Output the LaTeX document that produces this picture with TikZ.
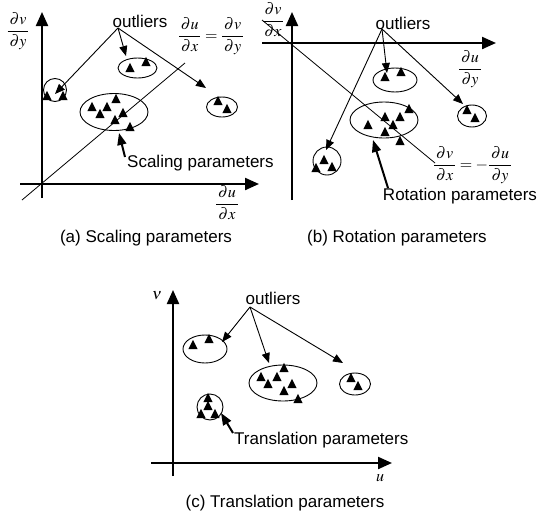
\documentclass[tikz,border=0pt]{standalone}
\usepackage{amsmath}
\usepackage{mathptmx}
\usepackage[no-math]{fontspec}
\setmainfont{Liberation Sans}
\usetikzlibrary{arrows.meta}
\newcommand\myfr[2]{\dfrac{\,\partial #1\,}{\,\partial #2\,}}
\begin{document}
\begin{tikzpicture}[x=1pt,y=-1pt,
  lbl/.style={font=\fontsize{17}{20}\selectfont, inner sep=0pt},
  mth/.style={font=\fontsize{16}{19}\selectfont, inner sep=0pt},
  axis/.style={line width=2.2pt, -{Triangle[length=14pt,width=12pt]}},
  outarrow/.style={line width=0.9pt, -{Triangle[length=10pt,width=8pt]}},
  thickarrow/.style={line width=2pt, -{Triangle[length=12pt,width=9pt]}},
  diag/.style={line width=0.8pt},
  ring/.style={line width=0.9pt},
  tri/.pic={\fill (-4.7,4.2) -- (4.7,4.2) -- (0,-5.2) -- cycle;}]
\useasboundingbox (0,0) rectangle (552,520);

% ---------------- (a) Scaling parameters ----------------
\draw[diag] (22,200) -- (185,63);
\draw[axis] (42,198) -- (42,12);
\draw[axis] (20,184) -- (259,184);
\node[mth] (avy) at (18,31) {$\myfr{v}{y}$};
\node[mth] (aux) at (227,203) {$\myfr{u}{x}$};
\node[mth] (aeq) at (211,36) {$\myfr{u}{x}=\myfr{v}{y}$};
\node[lbl] (aout) at (140,21) {outliers};
\coordinate (aoa) at (118,28);
\draw[ring] (55,90) circle [radius=11.5];
\draw[ring] (137.5,68) ellipse [x radius=19.5, y radius=10];
\draw[ring] (114,112) ellipse [x radius=34, y radius=18.5];
\draw[ring] (222,107) ellipse [x radius=15.5, y radius=10];
\pic at (47,96) {tri}; \pic at (63,96) {tri};
\pic at (130,68) {tri}; \pic at (146,62) {tri};
\pic at (92,107) {tri}; \pic at (100,114) {tri}; \pic at (107,107) {tri};
\pic at (116,99) {tri}; \pic at (123,113) {tri}; \pic at (115,120) {tri};
\pic at (130,127) {tri};
\pic at (218,101) {tri}; \pic at (227,109) {tri};
\coordinate (at1) at (55,94);
\coordinate (at2) at (126,56);
\coordinate (at3) at (206,88);
\draw[outarrow] (aoa) -- (at1);
\draw[outarrow] (aoa) -- (at2);
\draw[outarrow] (aoa) -- (at3);
\node[lbl, anchor=west] (asc) at (127,163) {Scaling parameters};
\coordinate (asct) at (119,133);
\draw[thickarrow] (125,157) -- (asct);
\node[lbl] (acap) at (146,238) {(a) Scaling parameters};

% ---------------- (b) Rotation parameters ----------------
\draw[diag] (262,20) -- (435,163);
\draw[axis] (292,200) -- (292,12);
\draw[axis] (262,43) -- (496,43);
\node[mth] (bvx) at (273,20) {$\myfr{v}{x}$};
\node[mth] (buy) at (470,69) {$\myfr{u}{y}$};
\node[mth, anchor=west] (beq) at (433,165) {$\myfr{v}{x}=-\myfr{u}{y}$};
\node[lbl] (bout) at (403,23) {outliers};
\coordinate (boa) at (382,29);
\draw[ring] (395,80) ellipse [x radius=22, y radius=12];
\draw[ring] (384,120) ellipse [x radius=34, y radius=18];
\draw[ring] (472,116) ellipse [x radius=14.5, y radius=11];
\draw[ring] (327,161) circle [radius=14];
\pic at (385,77) {tri}; \pic at (401,72) {tri};
\pic at (368,125) {tri}; \pic at (385,117) {tri}; \pic at (393,125) {tri};
\pic at (400,117) {tri}; \pic at (385,132) {tri}; \pic at (409,109) {tri};
\pic at (400,141) {tri};
\pic at (467,110) {tri}; \pic at (475,118) {tri};
\pic at (324,160) {tri}; \pic at (316,168) {tri}; \pic at (332,167) {tri};
\coordinate (bt1) at (387,73);
\coordinate (bt2) at (463,104);
\coordinate (bt3) at (326,150);
\draw[outarrow] (boa) -- (bt1);
\draw[outarrow] (boa) -- (bt2);
\draw[outarrow] (boa) -- (bt3);
\node[lbl] (brot) at (460,196) {Rotation parameters};
\coordinate (brott) at (373,140);
\draw[thickarrow] (388,188) -- (brott);
\node[lbl] (bcap) at (397,238) {(b) Rotation parameters};

% ---------------- (c) Translation parameters ----------------
\draw[axis] (173,476) -- (173,290);
\draw[axis] (151,463) -- (392,463);
\node[mth] (cv) at (157,296) {$\nu$};
\node[mth] (cu) at (380,478) {$u$};
\node[lbl] (cout) at (273,298) {outliers};
\coordinate (coa) at (250,307);
\draw[ring] (205,349) ellipse [x radius=22, y radius=14];
\draw[ring] (283,383) ellipse [x radius=34, y radius=18];
\draw[ring] (355,384) ellipse [x radius=15.5, y radius=11];
\draw[ring] (210,407) circle [radius=13];
\pic at (193,345) {tri}; \pic at (209,339) {tri};
\pic at (261,377) {tri}; \pic at (268,384) {tri}; \pic at (277,377) {tri};
\pic at (284,368) {tri}; \pic at (292,384) {tri}; \pic at (284,391) {tri};
\pic at (298,399) {tri};
\pic at (351,378) {tri}; \pic at (358,386) {tri};
\pic at (208,398) {tri}; \pic at (208,406) {tri}; \pic at (201,414) {tri};
\pic at (215,414) {tri};
\coordinate (ct1) at (222,342);
\coordinate (ct2) at (269,363);
\coordinate (ct3) at (343,363);
\draw[outarrow] (coa) -- (ct1);
\draw[outarrow] (coa) -- (ct2);
\draw[outarrow] (coa) -- (ct3);
\node[lbl, anchor=west] (ctr) at (234,440) {Translation parameters};
\coordinate (ctrt) at (221,413);
\draw[thickarrow] (233,433) -- (ctrt);
\node[lbl] (ccap) at (285,503) {(c) Translation parameters};
\end{tikzpicture}
\end{document}
